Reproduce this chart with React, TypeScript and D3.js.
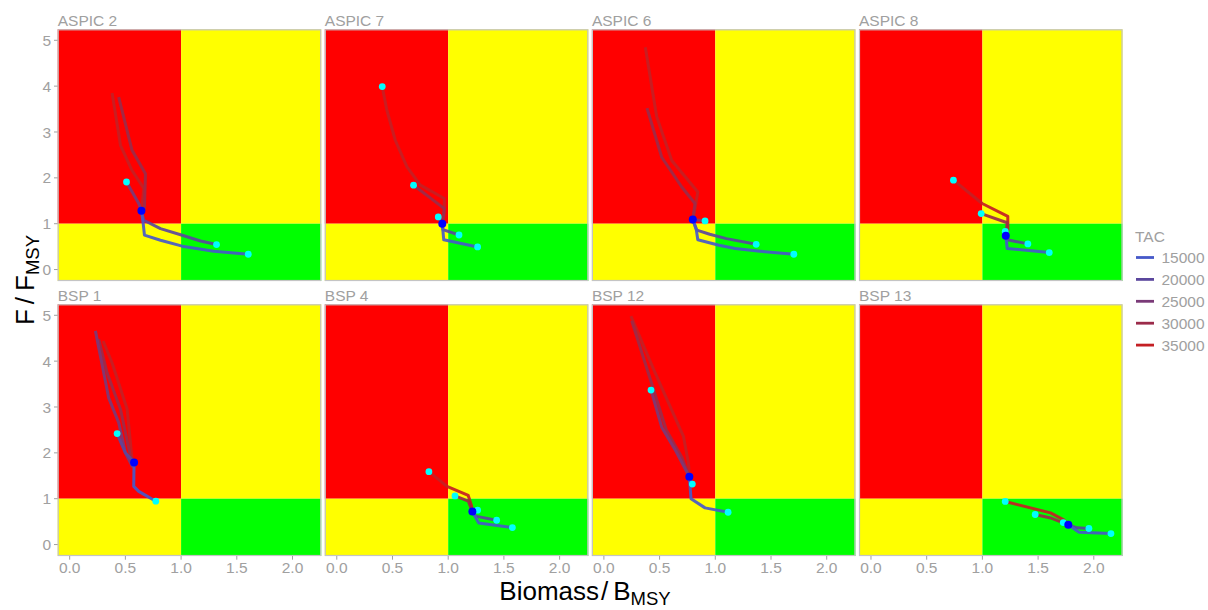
import React from "react";
import * as d3 from "d3";

type Pt = [number, number];

const panelNames = ["ASPIC 2", "ASPIC 7", "ASPIC 6", "ASPIC 8", "BSP 1", "BSP 4", "BSP 12", "BSP 13"];
const tacLevels = [15000, 20000, 25000, 30000, 35000];
const tacColors = ["#4659c9", "#5b479d", "#7a3a78", "#9b2b4a", "#c41f24"];
const xTicks = [0, 0.5, 1, 1.5, 2];
const yTicks = [0, 1, 2, 3, 4, 5];

// current status (blue point) per panel
const currentPts: Pt[] = [
  [0.644, 1.28], [0.947, 1.0], [0.798, 1.09], [1.21, 0.74],
  [0.578, 1.79], [1.217, 0.72], [0.767, 1.48], [1.771, 0.43],
];

// end points (cyan) per panel
const endPts: Pt[][] = [
  [[0.51, 1.91], [1.318, 0.545], [1.603, 0.334]],
  [[0.408, 3.99], [0.689, 1.84], [0.911, 1.147], [1.097, 0.754], [1.264, 0.493]],
  [[0.908, 1.06], [1.367, 0.55], [1.705, 0.334]],
  [[0.74, 1.95], [0.989, 1.22], [1.205, 0.83], [1.408, 0.56], [1.6, 0.37]],
  [[0.426, 2.42], [0.773, 0.946]],
  [[0.827, 1.59], [1.061, 1.06], [1.264, 0.75], [1.435, 0.53], [1.576, 0.37]],
  [[0.423, 3.37], [0.794, 1.32], [1.115, 0.705]],
  [[1.205, 0.94], [1.474, 0.655], [1.726, 0.48], [1.956, 0.35], [2.154, 0.24]],
];

// trajectories per panel, ordered by TAC level [15000, 20000, 25000, 30000, 35000]
const aspic2: Pt[][] = [
  [[0.644, 1.28], [0.66, 1.0], [0.671, 0.75], [0.815, 0.64], [1.01, 0.51], [1.294, 0.4], [1.603, 0.334]],
  [[0.644, 1.28], [0.665, 1.075], [0.815, 0.893], [1.01, 0.748], [1.174, 0.624], [1.318, 0.545]],
  [[0.644, 1.28], [0.62, 1.44], [0.51, 1.91]],
  [[0.644, 1.28], [0.671, 1.33], [0.68, 2.09], [0.56, 2.6], [0.44, 3.76]],
  [[0.644, 1.28], [0.665, 1.77], [0.56, 2.16], [0.456, 2.71], [0.381, 3.85]],
];
const aspic7: Pt[][] = [
  [[0.947, 1.0], [0.96, 0.65], [1.264, 0.493]],
  [[0.947, 1.0], [0.953, 0.87], [1.097, 0.754]],
  [[0.947, 1.0], [0.911, 1.147]],
  [[0.947, 1.0], [0.965, 1.33], [0.83, 1.58], [0.689, 1.84]],
  [[0.947, 1.0], [0.965, 1.22], [0.965, 1.55], [0.75, 1.84], [0.63, 2.24], [0.525, 2.82], [0.45, 3.47], [0.408, 3.99]],
];
const aspic6: Pt[][] = [
  [[0.798, 1.09], [0.83, 0.86], [0.843, 0.65], [1.033, 0.53], [1.178, 0.458], [1.4, 0.4], [1.705, 0.334]],
  [[0.798, 1.09], [0.834, 0.86], [0.95, 0.77], [1.1, 0.675], [1.367, 0.55]],
  [[0.798, 1.09], [0.908, 1.06]],
  [[0.798, 1.09], [0.818, 1.44], [0.699, 1.8], [0.519, 2.45], [0.387, 3.52]],
  [[0.798, 1.09], [0.81, 1.22], [0.843, 1.69], [0.609, 2.38], [0.474, 3.33], [0.372, 4.85]],
];
const aspic8: Pt[][] = [
  [[1.21, 0.74], [1.223, 0.46], [1.6, 0.37]],
  [[1.21, 0.74], [1.223, 0.65], [1.408, 0.56]],
  [[1.21, 0.74], [1.205, 0.83]],
  [[1.21, 0.74], [1.223, 1.02], [0.989, 1.22]],
  [[1.21, 0.74], [1.228, 0.86], [1.228, 1.16], [0.998, 1.44], [0.74, 1.95]],
];
const bsp1: Pt[][] = [
  [[0.578, 1.79], [0.575, 1.27], [0.62, 1.16], [0.773, 0.946]],
  [[0.578, 1.79], [0.5, 2.0], [0.426, 2.42]],
  [[0.578, 1.79], [0.56, 1.71], [0.5, 2.0], [0.44, 2.66], [0.35, 3.2], [0.276, 4.11], [0.231, 4.66]],
  [[0.578, 1.79], [0.545, 1.93], [0.456, 2.95], [0.336, 3.74], [0.26, 4.48]],
  [[0.578, 1.79], [0.56, 1.86], [0.516, 2.95], [0.381, 3.96], [0.3, 4.44]],
];
const bsp4: Pt[][] = [
  [[1.217, 0.72], [1.274, 0.47], [1.576, 0.37]],
  [[1.217, 0.72], [1.245, 0.62], [1.435, 0.53]],
  [[1.217, 0.72], [1.264, 0.75]],
  [[1.217, 0.72], [1.18, 0.945], [1.061, 1.06]],
  [[1.217, 0.72], [1.21, 0.84], [1.18, 1.07], [0.989, 1.27], [0.827, 1.59]],
];
const bsp12: Pt[][] = [
  [[0.767, 1.48], [0.782, 1.0], [0.908, 0.8], [1.115, 0.705]],
  [[0.767, 1.48], [0.794, 1.32]],
  [[0.767, 1.48], [0.639, 2.07], [0.519, 2.56], [0.423, 3.37]],
  [[0.767, 1.48], [0.7, 1.9], [0.56, 2.5], [0.43, 3.5], [0.25, 4.88]],
  [[0.767, 1.48], [0.759, 1.78], [0.714, 2.36], [0.459, 3.75], [0.243, 4.98]],
];
const bsp13: Pt[][] = [
  [[1.771, 0.43], [1.867, 0.27], [2.154, 0.24]],
  [[1.771, 0.43], [1.852, 0.365], [1.956, 0.35]],
  [[1.771, 0.43], [1.726, 0.48]],
  [[1.771, 0.43], [1.612, 0.58], [1.474, 0.655]],
  [[1.771, 0.43], [1.73, 0.54], [1.612, 0.69], [1.205, 0.94]],
];
const trajectories: Pt[][][] = [aspic2, aspic7, aspic6, aspic8, bsp1, bsp4, bsp12, bsp13];

const FONT = "'Liberation Sans', Arial, Helvetica, sans-serif";
const GREY = "#a0a0a0";

export default function App() {
  const W = 1208, H = 610;
  const left0 = 57.7, top0 = 29.3;
  const pw = 263.5, ph = 251.7;
  const stepX = 267.1, stepY = 275.0;

  const x = d3.scaleLinear().domain([-0.1075, 2.2575]).range([0, pw]);
  const y = d3.scaleLinear().domain([-0.2495, 5.2395]).range([ph, 0]);
  const line = d3.line<Pt>().x((d) => x(d[0])).y((d) => y(d[1]));

  const [xd0, xd1] = x.domain();
  const [yd0, yd1] = y.domain();

  const panels = panelNames.map((name, i) => {
    const col = i % 4, row = Math.floor(i / 4);
    const px = left0 + col * stepX, py = top0 + row * stepY;
    const trajs = trajectories[i];
    const order = [4, 3, 2, 1, 0];
    return (
      <g key={name} transform={`translate(${px},${py})`}>
        <text x={0} y={-3.5} fontSize={15.5} fill={GREY} fontFamily={FONT}>{name}</text>
        <rect x={x(xd0)} y={y(yd1)} width={x(1) - x(xd0)} height={y(1) - y(yd1)} fill="#ff0000" />
        <rect x={x(1)} y={y(yd1)} width={x(xd1) - x(1)} height={y(1) - y(yd1)} fill="#ffff00" />
        <rect x={x(xd0)} y={y(1)} width={x(1) - x(xd0)} height={y(yd0) - y(1)} fill="#ffff00" />
        <rect x={x(1)} y={y(1)} width={x(xd1) - x(1)} height={y(yd0) - y(1)} fill="#00ff00" />
        {order.map((k) => (
          <path key={k} d={line(trajs[k]) || ""} fill="none" stroke={tacColors[k]} strokeWidth={3}
            strokeLinejoin="round" strokeLinecap="butt" strokeOpacity={0.92} />
        ))}
        {endPts[i].map((p, j) => (
          <circle key={j} cx={x(p[0])} cy={y(p[1])} r={3.4} fill="#00ffff" />
        ))}
        <circle cx={x(currentPts[i][0])} cy={y(currentPts[i][1])} r={4} fill="#0000ff" />
        <rect x={0.5} y={0.5} width={pw - 1} height={ph - 1} fill="none" stroke="#c4c4c4" strokeWidth={1.2} />
        {col === 0 && yTicks.map((t) => (
          <g key={t}>
            <line x1={-3.7} x2={0} y1={y(t)} y2={y(t)} stroke={GREY} strokeWidth={1} />
            <text x={-6.5} y={y(t)} dy="0.36em" textAnchor="end" fontSize={15.5} fill={GREY} fontFamily={FONT}>{t}</text>
          </g>
        ))}
        {row === 1 && xTicks.map((t) => (
          <g key={t}>
            <line x1={x(t)} x2={x(t)} y1={ph} y2={ph + 3.7} stroke={GREY} strokeWidth={1} />
            <text x={x(t)} y={ph + 17.5} textAnchor="middle" fontSize={15.5} fill={GREY} fontFamily={FONT}>{d3.format(".1f")(t)}</text>
          </g>
        ))}
      </g>
    );
  });

  return (
    <svg width={W} height={H} style={{ position: "absolute", left: 0, top: 0, background: "#ffffff" }}>
      <rect width={W} height={H} fill="#ffffff" />
      {panels}
      {/* axis titles */}
      <text x={585} y={600} textAnchor="middle" fontSize={26} fill="#000" fontFamily={FONT}>
        Biomass<tspan dx={2} fontWeight={300}>/</tspan><tspan dx={5}>B</tspan><tspan dy={5} fontSize={18.5}>MSY</tspan>
      </text>
      <text transform="translate(34,280) rotate(-90)" textAnchor="middle" fontSize={26} fill="#000" fontFamily={FONT}>
        F<tspan dx={5} fontWeight={300}>/</tspan><tspan dx={6}>F</tspan><tspan dy={5} fontSize={18.5}>MSY</tspan>
      </text>
      {/* legend */}
      <g fontFamily={FONT}>
        <text x={1135} y={242.3} fontSize={15.5} fill={GREY}>TAC</text>
        {tacLevels.map((t, i) => (
          <g key={t} transform={`translate(0,${257.5 + i * 21.9})`}>
            <line x1={1136} x2={1154} y1={0} y2={0} stroke={tacColors[i]} strokeWidth={2.8} />
            <text x={1161.5} y={0} dy="0.36em" fontSize={15.5} fill={GREY}>{t}</text>
          </g>
        ))}
      </g>
    </svg>
  );
}
